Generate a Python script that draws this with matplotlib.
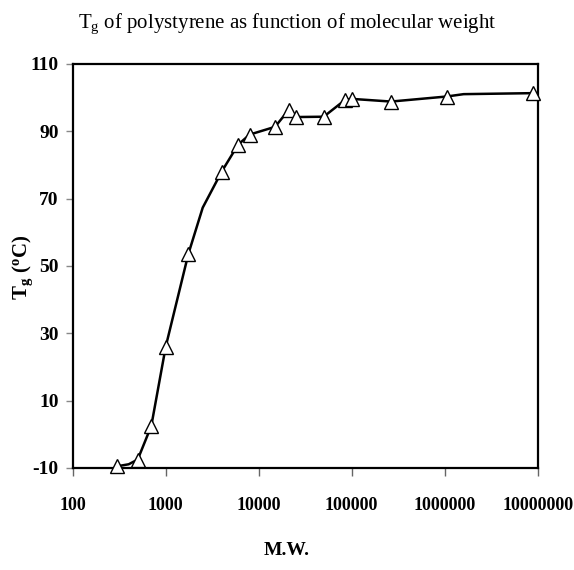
import matplotlib
matplotlib.use("Agg")
import matplotlib.pyplot as plt

plt.rcParams['font.family'] = ['Liberation Serif', 'DejaVu Serif']
plt.rcParams['mathtext.fontset'] = 'custom'
plt.rcParams['mathtext.rm'] = 'Liberation Serif'
plt.rcParams['mathtext.it'] = 'Liberation Serif:italic'
plt.rcParams['mathtext.bf'] = 'Liberation Serif:bold'
plt.rcParams['axes.unicode_minus'] = False

# measured points (with markers)
mw = [300, 500, 700, 1000, 1750, 4000, 6000, 8000, 15000, 21000, 25000,
      50000, 85000, 100000, 265000, 1050000, 9000000]
tg = [-9.5, -7.5, 2.5, 26, 53.5, 78, 86, 89, 91.3, 96.3, 94.2,
      94.3, 99.3, 99.6, 98.8, 100.3, 101.3]

# extra points on the drawn curve (no marker)
curve_mw = [400, 2500, 1600000]
curve_tg = [-8.9, 67.3, 101.0]

xticks = [100, 1000, 10000, 100000, 1000000, 10000000]
xtick_labels = ['100', '1000', '10000', '100000', '1000000', '10000000']
yticks = [-10, 10, 30, 50, 70, 90, 110]

line_pts = sorted(zip(mw + curve_mw, tg + curve_tg))
line_x = [p[0] for p in line_pts]
line_y = [p[1] for p in line_pts]

fig = plt.figure(figsize=(5.74, 5.70), dpi=100)
ax = fig.add_axes([0.1267, 0.179, 0.81, 0.709])

ax.plot(line_x, line_y, color='black', lw=1.8, zorder=2)
ax.plot(mw, tg, ls='none', marker='^', ms=10, mfc='white', mec='black',
        mew=1.0, zorder=3, clip_on=False)

ax.set_xscale('log')
ax.set_xlim(100, 10000000)
ax.set_ylim(-10, 110)
ax.set_xticks(xticks)
ax.set_xticklabels(xtick_labels)
ax.minorticks_off()
ax.set_yticks(yticks)

for s in ax.spines.values():
    s.set_linewidth(1.6)
ax.tick_params(axis='y', direction='out', length=5, width=1, color='#888888',
               labelsize=14, pad=5)
ax.tick_params(axis='x', direction='out', length=6, width=1, color='#666666',
               labelsize=13, pad=15)
for lbl in ax.get_xticklabels() + ax.get_yticklabels():
    lbl.set_fontweight('bold')

fig.text(0.5, 0.958, r'T$_\mathrm{g}$ of polystyrene as function of molecular weight',
         ha='center', va='center', fontsize=15)
fig.text(0.5, 0.035, 'M.W.', ha='center', va='center', fontsize=14, fontweight='bold')
fig.text(0.04, 0.53, r'T$_\mathbf{g}$ ($^\mathbf{o}$C)', rotation=90, ha='center',
         va='center', fontsize=15, fontweight='bold')

fig.savefig('out.png', dpi=100)
